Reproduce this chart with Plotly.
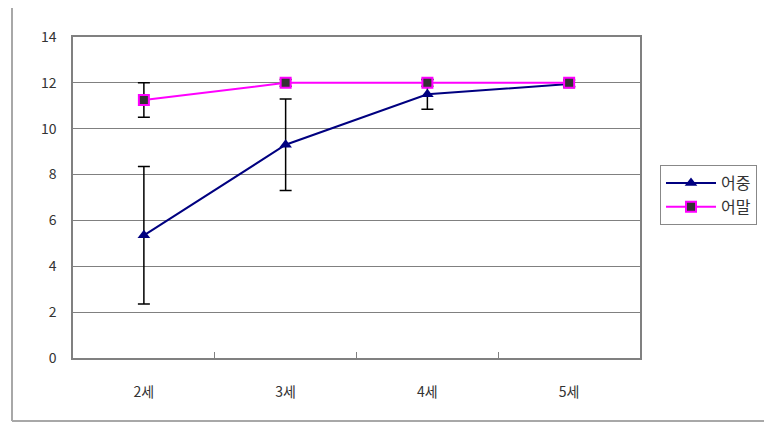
import plotly.graph_objects as go

categories = ["2세", "3세", "4세", "5세"]
mid_vals = [5.35, 9.3, 11.5, 11.95]
mid_err = [3.0, 2.0, 0.65, 0.15]
end_vals = [11.25, 12.0, 12.0, 12.0]
end_err = [0.75, 0.15, 0.15, 0.15]
y_ticks = [0, 2, 4, 6, 8, 10, 12, 14]

FONT = "Noto Sans CJK KR"
OFF = 8  # page body margin
W, H = 772 - OFF, 424 - OFF
L, R, T, B = 73 - OFF, 640 - OFF, 37 - OFF, 358 - OFF
pw, ph = R - L, B - T

fig = go.Figure()
fig.add_trace(go.Scatter(
    x=categories, y=mid_vals, name="어중", mode="lines+markers",
    line=dict(color="#000080", width=2),
    marker=dict(symbol="triangle-up", size=11, color="#000080"),
    error_y=dict(type="data", array=mid_err, color="#000000", thickness=1.5, width=6),
))
fig.add_trace(go.Scatter(
    x=categories, y=end_vals, name="어말", mode="lines+markers",
    line=dict(color="#ff00ff", width=2),
    marker=dict(symbol="square", size=10, color="#333333", line=dict(color="#ff00ff", width=2)),
    error_y=dict(type="data", array=end_err, color="#000000", thickness=1.5, width=6),
))

def px(x):
    return (x - OFF - L) / pw

def py(y):
    return (B - (y - OFF)) / ph

frame = dict(type="line", xref="paper", yref="paper",
             line=dict(color="#a8a8a8", width=2), layer="below")
fig.add_shape(x0=px(12), x1=px(800), y0=py(3), y1=py(3), **frame)
fig.add_shape(x0=px(12), x1=px(12), y0=py(3), y1=py(421), **frame)
fig.add_shape(x0=px(12), x1=px(800), y0=py(421), y1=py(421), **frame)

fig.update_layout(
    width=W, height=H,
    margin=dict(l=L, r=W - R, t=T, b=H - B),
    paper_bgcolor="white", plot_bgcolor="white",
    font=dict(family=FONT, size=14, color="#333333"),
    showlegend=True,
    legend=dict(x=px(660), y=py(165), xanchor="left", yanchor="top",
                bordercolor="#888888", borderwidth=1, bgcolor="white",
                font=dict(size=16), tracegroupgap=0, itemwidth=50,
                entrywidth=90),
)
fig.update_xaxes(
    type="category", range=[-0.5, 3.5],
    showline=True, linecolor="#808080", linewidth=1.5, mirror=True,
    ticks="inside", tickson="boundaries", ticklen=6, tickcolor="#808080",
    showgrid=False, ticklabelstandoff=20,
)
fig.update_yaxes(
    range=[0, 14], tickvals=y_ticks,
    showline=True, linecolor="#808080", linewidth=1.5, mirror=True,
    showgrid=True, gridcolor="#808080", gridwidth=1,
    zeroline=False, ticks="", ticklabelstandoff=12,
)
fig.write_html("out.html")
